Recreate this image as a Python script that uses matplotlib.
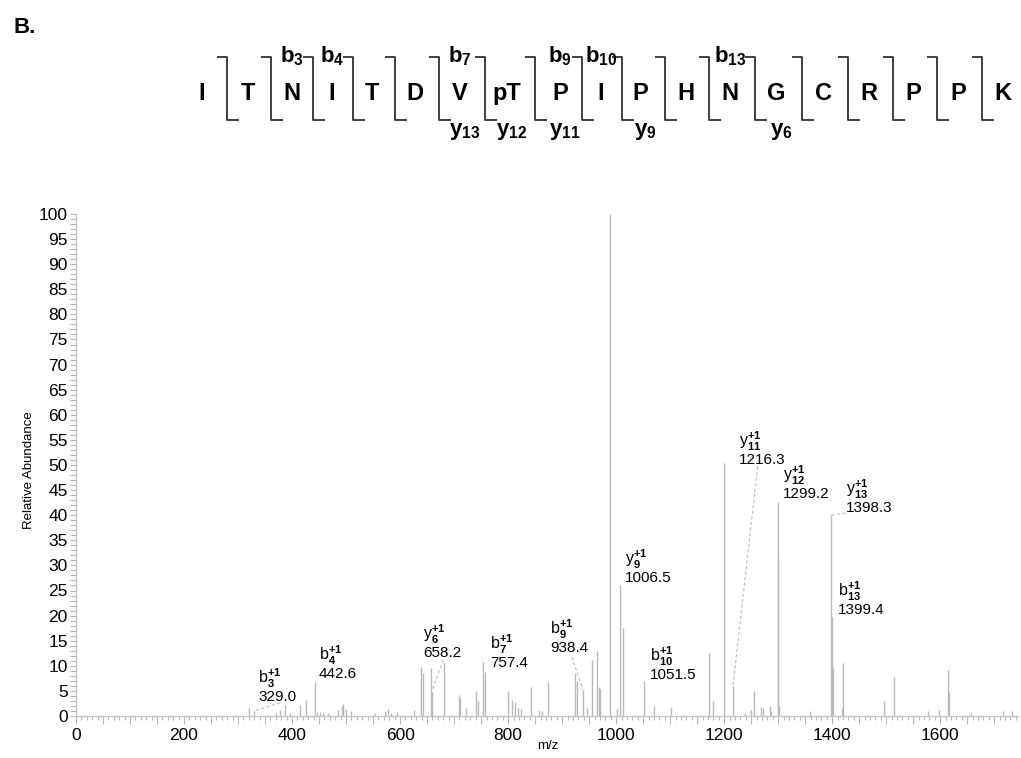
import matplotlib
matplotlib.use('Agg')
import matplotlib.pyplot as plt
from matplotlib.ticker import MultipleLocator, FuncFormatter

plt.rcParams['font.family'] = ['Liberation Sans', 'DejaVu Sans']
plt.rcParams['mathtext.fontset'] = 'custom'
plt.rcParams['mathtext.rm'] = 'Liberation Sans'
plt.rcParams['mathtext.bf'] = 'Liberation Sans:bold'
plt.rcParams['mathtext.it'] = 'Liberation Sans:italic'

# ---------------- data ----------------
sequence = ['I', 'T', 'N', 'I', 'T', 'D', 'V', 'pT', 'P', 'I', 'P', 'H', 'N', 'G',
            'C', 'R', 'P', 'P', 'K']
b_ions = [3, 4, 7, 9, 10, 13]
y_ions = [13, 12, 11, 9, 6]

mz = [321, 329.0, 370, 378, 387, 396, 414, 425, 442.6, 447, 452, 458, 466, 485,
      492, 495, 499, 509, 554, 572, 578, 583, 595, 625, 638, 642, 656.5, 658.2,
      682, 709, 711, 722, 741, 745, 754, 757.4, 799, 808, 812, 818, 824, 842,
      857, 862, 873, 923, 927, 938.4, 946, 955, 964, 969, 971, 989, 1002,
      1006.5, 1012, 1051.5, 1070, 1101, 1171, 1180, 1199, 1216.3, 1239, 1249,
      1256, 1268, 1271, 1284, 1287, 1299.2, 1300.5, 1302, 1358, 1398.3, 1399.4,
      1401, 1418, 1419.5, 1496, 1515, 1578, 1597, 1615, 1616.5, 1657, 1717, 1733]
intensity = [1.6, 1.0, 0.6, 1.2, 2.2, 0.6, 2.2, 3.1, 6.8, 0.8, 0.7, 0.6, 0.5, 1.2,
             1.9, 2.4, 1.4, 1.0, 0.5, 1.0, 1.4, 0.6, 0.7, 1.2, 9.7, 8.5, 9.5, 4.8,
             10.8, 4.2, 3.5, 1.5, 5.0, 3.0, 10.8, 8.8, 5.0, 3.2, 2.8, 1.5, 1.3, 5.7,
             1.2, 1.0, 6.7, 8.5, 6.9, 5.2, 1.5, 11.2, 13.0, 5.8, 5.4, 100, 1.3,
             26.0, 17.5, 6.9, 2.0, 1.8, 12.6, 3.0, 50.3, 6.0, 0.6, 1.2,
             5.0, 1.8, 1.6, 2.0, 1.0, 42.7, 31.7, 2.0, 1.0, 40.0, 19.7,
             9.6, 1.5, 10.6, 2.9, 7.8, 1.0, 1.2, 9.2, 4.8, 0.6, 1.0, 0.9]

ann_ion = ['b', 'b', 'y', 'b', 'b', 'y', 'b', 'y', 'y', 'y', 'b']
ann_index = ['3', '4', '6', '7', '9', '9', '10', '11', '12', '13', '13']
ann_mz = [329.0, 442.6, 658.2, 757.4, 938.4, 1006.5, 1051.5, 1216.3, 1299.2, 1398.3, 1399.4]
ann_int = [1.0, 6.8, 4.8, 8.8, 5.2, 26.0, 6.9, 6.0, 42.7, 40.0, 19.7]

x_ticks = [0, 200, 400, 600, 800, 1000, 1200, 1400, 1600]

# ---------------- layout ----------------
label_pos = [(337, 3.8), (450, 8.3), (643, 12.5), (767, 10.5), (878, 13.5),
             (1017, 27.4), (1063, 8.2), (1228, 51.0), (1309, 44.2), (1425, 41.4),
             (1410, 21.1)]
leader_start = [(378, 2.6), None, (680, 11.2), None, (918, 11.8), None, None,
                (1262, 49.7), None, (1425, 40.4), None]
residue_px = [202, 248, 291.7, 331.7, 371.7, 415, 460, 507, 560, 601, 640.7,
              685.7, 730, 776.7, 823.3, 869.3, 913.3, 958.3, 1003.3]

W, H = 1021, 758
fig = plt.figure(figsize=(W / 100, H / 100), dpi=100)

# ---- peptide diagram (pixel-coordinate overlay) ----
top = fig.add_axes([0, 0, 1, 1])
top.set_xlim(0, W)
top.set_ylim(H, 0)
top.axis('off')
top.patch.set_alpha(0)

top.text(13, 33, 'B.', fontsize=16, fontweight='bold', ha='left', va='baseline')
for x, aa in zip(residue_px, sequence):
    top.text(x, 100, aa, fontsize=17, fontweight='bold', ha='center', va='baseline')
line_kw = dict(color='#303030', lw=1.3, solid_capstyle='butt')
for i in range(len(sequence) - 1):
    xv = (residue_px[i] + residue_px[i + 1]) / 2 + 1.5
    top.plot([xv - 10, xv, xv, xv + 12], [56.7, 56.7, 120, 120], **line_kw)
for n in b_ions:
    top.text(residue_px[n - 1], 62, r'$\mathbf{b}_{\mathbf{%d}}$' % n, fontsize=16,
             ha='center', va='baseline')
for n in y_ions:
    i = len(sequence) - n
    top.text(residue_px[i] + 5, 135, r'$\mathbf{y}_{\mathbf{%d}}$' % n, fontsize=16,
             ha='center', va='baseline')

# ---- spectrum ----
ax = fig.add_axes([76 / W, 42 / H, (1018 - 76) / W, (716 - 214) / H])
ax.patch.set_alpha(0)
ax.vlines(mz, 0, intensity, colors='#b9b9b9', linewidth=1.0)
ax.set_xlim(0, 1744)
ax.set_ylim(0, 100)

for sp in ['top', 'right']:
    ax.spines[sp].set_visible(False)
for sp in ['left', 'bottom']:
    ax.spines[sp].set_color('#c4c4c4')
    ax.spines[sp].set_linewidth(1.0)

ax.xaxis.set_major_locator(MultipleLocator(50))
ax.xaxis.set_minor_locator(MultipleLocator(10))
ax.xaxis.set_major_formatter(FuncFormatter(
    lambda v, p: f'{int(round(v))}' if int(round(v)) in x_ticks else ''))
ax.yaxis.set_major_locator(MultipleLocator(5))
ax.yaxis.set_minor_locator(MultipleLocator(1))
ax.yaxis.set_major_formatter(FuncFormatter(lambda v, p: f'{int(round(v))}'))
ax.tick_params(axis='both', which='both', color='#b8b8b8', width=0.8,
               labelsize=12.5, labelcolor='black')
ax.tick_params(axis='x', which='major', length=6, pad=3)
ax.tick_params(axis='x', which='minor', length=3)
ax.tick_params(axis='y', which='major', length=4, pad=2)
ax.tick_params(axis='y', which='minor', length=4)

ax.set_ylabel('Relative Abundance', fontsize=9.5)
ax.yaxis.set_label_coords(-0.0435, 0.49)
ax.set_xlabel('m/z', fontsize=9.5, va='top')
ax.xaxis.set_label_coords(0.501, -0.048)

for ion, idx, pm, pi, lp, ls in zip(ann_ion, ann_index, ann_mz, ann_int,
                                     label_pos, leader_start):
    ax.annotate(r'$\mathrm{%s}_{\mathbf{%s}}^{\mathbf{+1}}$' % (ion, idx), xy=lp,
                xytext=(0, 5.2), textcoords='offset points', fontsize=11.5,
                ha='left', va='bottom')
    ax.text(lp[0], lp[1], f'{pm:.1f}', fontsize=11, ha='left', va='center')
    if ls is not None:
        ax.plot([ls[0], pm], [ls[1], pi], color='#bdbdbd', lw=0.8,
                linestyle=(0, (3, 2)))

fig.savefig('out.png', dpi=100)
